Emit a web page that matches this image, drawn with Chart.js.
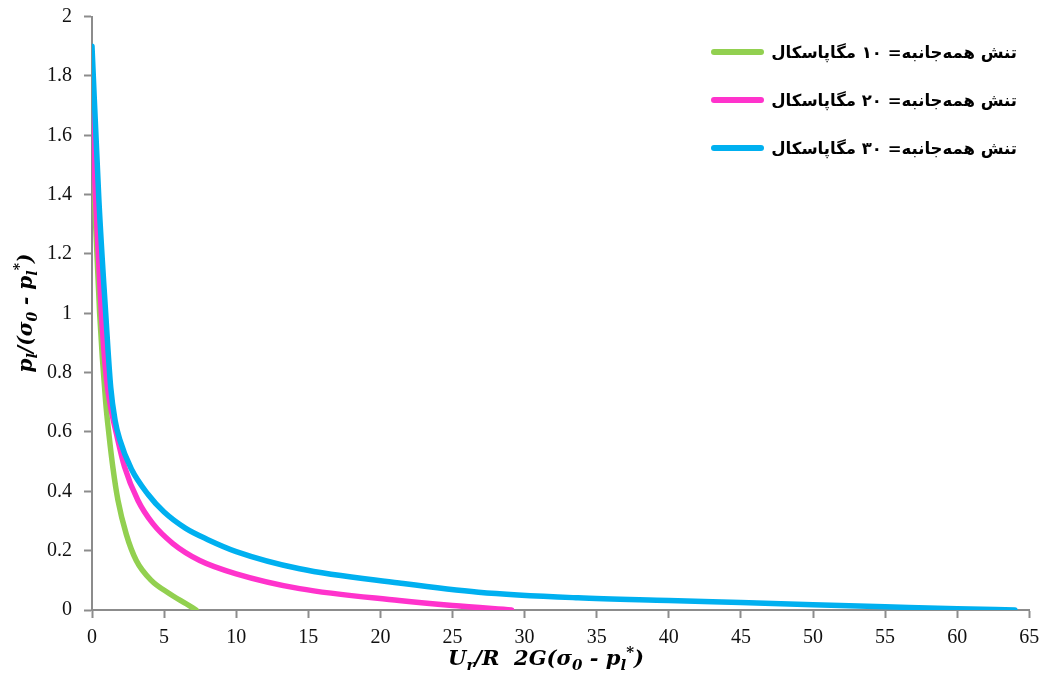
<!DOCTYPE html>
<html>
<head>
<meta charset="utf-8">
<script src="https://cdn.jsdelivr.net/npm/chart.js@4.4.1/dist/chart.umd.min.js"></script>
<style>
  body { margin: 0; background: #fff; }
  canvas { display: block; }
</style>
</head>
<body>
<canvas id="myChart" width="1043" height="678"></canvas>
<script>
// series labels (legend)
const labels10 = 'تنش همه‌جانبه= ۱۰ مگاپاسکال';
const labels20 = 'تنش همه‌جانبه= ۲۰ مگاپاسکال';
const labels30 = 'تنش همه‌جانبه= ۳۰ مگاپاسکال';

// values
const x10 = [0, 0.2, 0.53, 0.95, 1.18, 1.45, 1.8, 2.38, 3.07, 4.11, 5.38, 6.53, 7.22];
const y10 = [1.6, 1.36, 1.0, 0.7, 0.59, 0.48, 0.37, 0.255, 0.167, 0.1, 0.055, 0.021, 0];

const x20 = [0, 0.25, 0.65, 1.0, 1.27, 1.69, 2.26, 3.18, 4.22, 5.61, 7.47, 10, 14.4, 21.3, 25, 29.1];
const y20 = [1.7, 1.38, 1.0, 0.78, 0.69, 0.595, 0.482, 0.37, 0.291, 0.224, 0.167, 0.122, 0.072, 0.032, 0.015, 0];

const x30 = [0, 0.48, 0.95, 1.3, 1.6, 1.92, 2.73, 3.88, 5, 6.5, 8, 10, 14.4, 21.3, 26.8, 33.7, 40, 45, 50, 55, 60, 64];
const y30 = [1.9, 1.38, 1.0, 0.75, 0.64, 0.575, 0.475, 0.39, 0.33, 0.275, 0.238, 0.197, 0.139, 0.091, 0.06, 0.041, 0.032, 0.025, 0.018, 0.011, 0.004, 0];

const xMin = 0, xMax = 65, xStep = 5;
const yMin = 0, yMax = 2, yStep = 0.2;

function pts(xs, ys) {
    return xs.map((x, i) => ({ x: x, y: ys[i] }));
}

const green = '#92D050';
const pink = '#FF33CC';
const blue = '#00B0F0';
const axisGrey = '#8c8c8c';

// draws axis titles with sub/superscripts and the legend
const extras = {
    id: 'extras',
    afterDraw(chart) {
        const ctx = chart.ctx;

        function rich(parts, cx, cy, size) {
            const big = 'italic bold ' + size + 'px "DejaVu Serif"';
            const small = 'italic bold ' + Math.round(size * 0.7) + 'px "DejaVu Serif"';
            let w = 0;
            parts.forEach(p => {
                ctx.font = p.s ? small : big;
                w += ctx.measureText(p.t).width;
            });
            let x = cx - w / 2;
            ctx.textBaseline = 'alphabetic';
            ctx.textAlign = 'left';
            parts.forEach(p => {
                ctx.font = p.s ? small : big;
                let dy = 0;
                if (p.s == 'sub') dy = size * 0.25;
                if (p.s == 'sup') dy = -size * 0.4;
                ctx.fillText(p.t, x, cy + dy);
                x += ctx.measureText(p.t).width;
            });
        }

        ctx.save();
        ctx.fillStyle = '#000';
        rich([
            { t: 'U' }, { t: 'r', s: 'sub' }, { t: '/R  2G(σ' }, { t: '0', s: 'sub' },
            { t: ' - p' }, { t: 'l', s: 'sub' }, { t: '*', s: 'sup' }, { t: ')' }
        ], 546, 665, 21);
        ctx.restore();

        ctx.save();
        ctx.translate(32, 313);
        ctx.rotate(-Math.PI / 2);
        ctx.fillStyle = '#000';
        rich([
            { t: 'p' }, { t: 'l', s: 'sub' }, { t: '/(σ' }, { t: '0', s: 'sub' },
            { t: ' - p' }, { t: 'l', s: 'sub' }, { t: '*', s: 'sup' }, { t: ')' }
        ], 0, 0, 20);
        ctx.restore();

        // legend
        const items = [[labels10, green], [labels20, pink], [labels30, blue]];
        ctx.save();
        items.forEach((it, i) => {
            const y = 52 + i * 48;
            ctx.strokeStyle = it[1];
            ctx.lineWidth = 6;
            ctx.lineCap = 'round';
            ctx.beginPath();
            ctx.moveTo(714, y);
            ctx.lineTo(761, y);
            ctx.stroke();
            ctx.fillStyle = '#000';
            ctx.font = 'bold 16.5px "DejaVu Sans"';
            ctx.direction = 'rtl';
            ctx.textAlign = 'right';
            ctx.textBaseline = 'middle';
            ctx.fillText(it[0], 1017, y + 2);
        });
        ctx.restore();
    }
};

let ctx = document.getElementById('myChart').getContext('2d');
let chart = new Chart(ctx, {
    type: 'scatter',
    data: {
        datasets: [
            { label: labels30, data: pts(x30, y30), borderColor: blue },
            { label: labels20, data: pts(x20, y20), borderColor: pink },
            { label: labels10, data: pts(x10, y10), borderColor: green }
        ]
    },
    options: {
        responsive: false,
        devicePixelRatio: 1,
        animation: false,
        showLine: true,
        elements: {
            point: { radius: 0 },
            line: { borderWidth: 5.5, cubicInterpolationMode: 'monotone', borderCapStyle: 'round', borderJoinStyle: 'round', fill: false }
        },
        layout: { padding: { top: 16.6, right: 13.7, left: 0, bottom: 0 } },
        plugins: { legend: { display: false }, tooltip: { enabled: false } },
        scales: {
            x: {
                type: 'linear',
                min: xMin, max: xMax,
                afterFit: s => { s.height = 68; s.paddingLeft = 0; s.paddingRight = 0; },
                ticks: { stepSize: xStep, color: '#111', padding: 8, maxRotation: 0,
                    font: { family: '"Liberation Serif"', size: 20 } },
                grid: { drawOnChartArea: false, drawTicks: true, tickLength: 8, tickColor: axisGrey, tickWidth: 2 },
                border: { color: axisGrey, width: 2 }
            },
            y: {
                type: 'linear',
                min: yMin, max: yMax,
                afterFit: s => { s.width = 92; s.paddingTop = 0; s.paddingBottom = 0; },
                ticks: { stepSize: yStep, color: '#111', padding: 12,
                    callback: v => Math.round(v * 10) / 10,
                    font: { family: '"Liberation Serif"', size: 20 } },
                grid: { drawOnChartArea: false, drawTicks: true, tickLength: 8, tickColor: axisGrey, tickWidth: 2 },
                border: { color: axisGrey, width: 2 }
            }
        }
    },
    plugins: [extras]
});
</script>
</body>
</html>
